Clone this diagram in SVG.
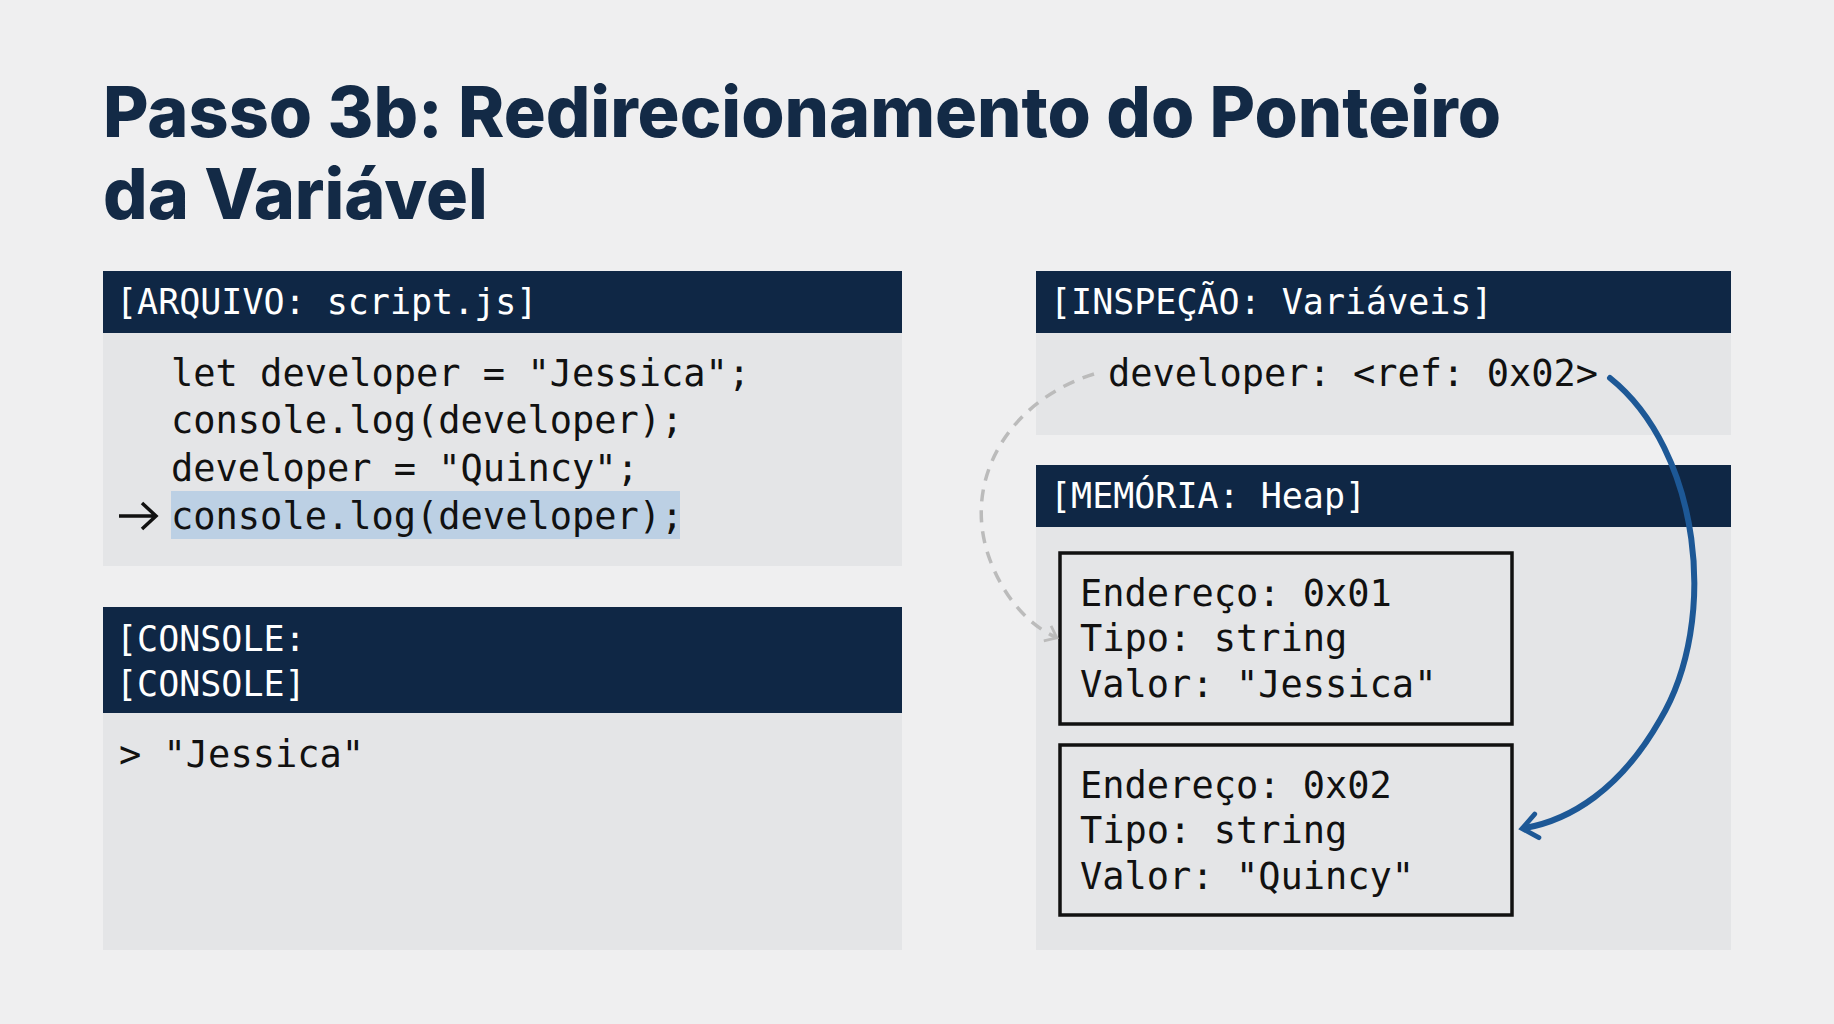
<svg xmlns="http://www.w3.org/2000/svg" width="1834" height="1024" viewBox="0 0 1834 1024">
<defs>
<style>
.title{font-family:Inter,"Liberation Sans",sans-serif;font-weight:800;font-size:70px;fill:#132a46}
.hdr{fill:#0f2745}
.body{fill:#e4e5e7}
.ht{font-family:"DejaVu Sans Mono","Liberation Mono",monospace;font-size:35px;fill:#ffffff}
.code{font-family:"DejaVu Sans Mono","Liberation Mono",monospace;font-size:37px;fill:#111}
.box{fill:none;stroke:#111;stroke-width:3.5}
</style>
<marker id="bh" viewBox="0 0 10 10" refX="5" refY="5" markerWidth="5" markerHeight="5" orient="auto"><path d="M1,1 L6,5 L1,9" fill="none" stroke="#1d5896" stroke-width="1.6" stroke-linecap="round"/></marker>
<marker id="gh" viewBox="0 0 10 10" refX="5" refY="5" markerWidth="6" markerHeight="6" orient="auto"><path d="M1,1 L6,5 L1,9" fill="none" stroke="#bbb" stroke-width="1.3"/></marker>
</defs>
<rect width="1834" height="1024" fill="#efeff0"/>
<text class="title" x="103" y="137">Passo 3b: Redirecionamento do Ponteiro</text>
<text class="title" x="103" y="219">da Variável</text>
<g id="script">
<rect class="body" x="103" y="271" width="799" height="295"/>
<rect class="hdr" x="103" y="271" width="799" height="62"/>
<text class="ht" x="116" y="314">[ARQUIVO: script.js]</text>
<rect x="171" y="491" width="509" height="48" fill="#bcd0e4"/>
<text class="code" x="171" y="386" xml:space="preserve">let developer = "Jessica";</text>
<text class="code" x="171" y="433">console.log(developer);</text>
<text class="code" x="171" y="481">developer = "Quincy";</text>
<text class="code" x="171" y="529">console.log(developer);</text>
<path d="M119,516 H155 M142,503 L156,516 L142,529" fill="none" stroke="#111" stroke-width="3.5"/>
</g>
<g id="console">
<rect class="body" x="103" y="607" width="799" height="343"/>
<rect class="hdr" x="103" y="607" width="799" height="106"/>
<text class="ht" x="116" y="651">[CONSOLE:</text>
<text class="ht" x="116" y="696">[CONSOLE]</text>
<text class="code" x="119" y="767">&gt; "Jessica"</text>
</g>
<g id="inspecao">
<rect class="body" x="1036" y="271" width="695" height="164"/>
<rect class="hdr" x="1036" y="271" width="695" height="62"/>
<text class="ht" x="1050" y="314">[INSPEÇÃO: Variáveis]</text>
<text class="code" x="1108" y="386">developer: &lt;ref: 0x02&gt;</text>
</g>
<g id="memoria">
<rect class="body" x="1036" y="465" width="695" height="485"/>
<rect class="hdr" x="1036" y="465" width="695" height="62"/>
<text class="ht" x="1050" y="508">[MEMÓRIA: Heap]</text>
</g>
<g id="mem1">
<rect class="box" x="1060" y="553" width="452" height="171"/>
<text class="code" x="1080" y="606">Endereço: 0x01</text>
<text class="code" x="1080" y="651">Tipo: string</text>
<text class="code" x="1080" y="697">Valor: "Jessica"</text>
</g>
<g id="mem2">
<rect class="box" x="1060" y="745" width="452" height="170"/>
<text class="code" x="1080" y="798">Endereço: 0x02</text>
<text class="code" x="1080" y="843">Tipo: string</text>
<text class="code" x="1080" y="889">Valor: "Quincy"</text>
</g>
<g id="connectors">
<path d="M1094,374 C1010,400 960,480 990,560 C1005,600 1030,625 1055,637" fill="none" stroke="#bbb" stroke-width="3.5" stroke-dasharray="12,9" marker-end="url(#gh)"/>
<path d="M1610,378 C1700,450 1720,620 1660,720 C1620,790 1570,820 1525,828" fill="none" stroke="#1d5896" stroke-width="6" stroke-linecap="round" marker-end="url(#bh)"/>
</g>
</svg>
